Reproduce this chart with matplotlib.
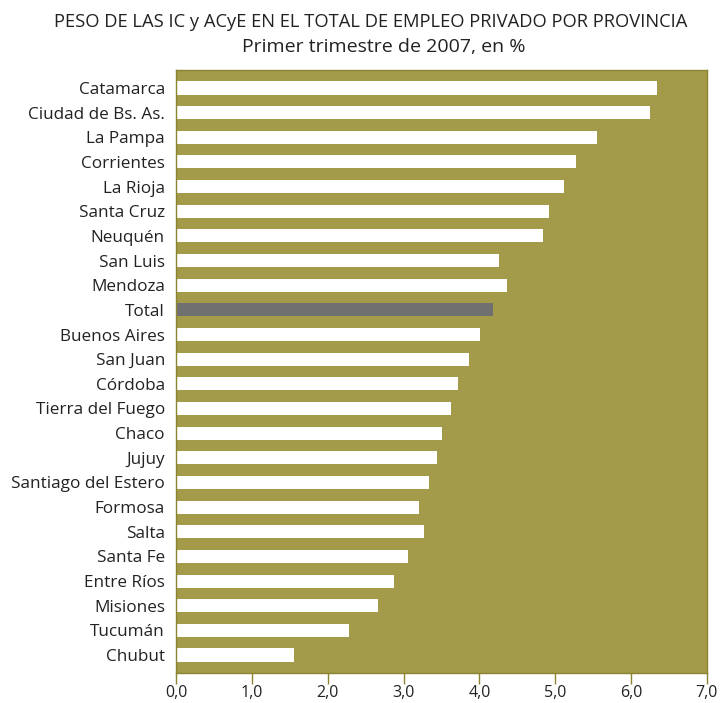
import numpy as np
import matplotlib.pyplot as plt

provincias = ["Catamarca", "Ciudad de Bs. As.", "La Pampa", "Corrientes", "La Rioja",
              "Santa Cruz", "Neuquén", "San Luis", "Mendoza", "Total", "Buenos Aires",
              "San Juan", "Córdoba", "Tierra del Fuego", "Chaco", "Jujuy",
              "Santiago del Estero", "Formosa", "Salta", "Santa Fe", "Entre Ríos",
              "Misiones", "Tucumán", "Chubut"]
valores = [6.34, 6.25, 5.55, 5.28, 5.12, 4.92, 4.84, 4.26, 4.37, 4.18, 4.01,
           3.86, 3.72, 3.62, 3.51, 3.44, 3.33, 3.20, 3.27, 3.06, 2.87,
           2.66, 2.28, 1.55]
ticks = [0, 1, 2, 3, 4, 5, 6, 7]
tick_labels = ["0,0", "1,0", "2,0", "3,0", "4,0", "5,0", "6,0", "7,0"]

olive = "#A39A4A"
plt.rcParams['font.family'] = ['Open Sans', 'DejaVu Sans']

fig = plt.figure(figsize=(7.22, 7.03), dpi=100)
ax = fig.add_axes([0.2438, 0.0427, 0.7352, 0.8577])
ax.set_facecolor(olive)

y = np.arange(len(provincias))
colors = ["#707070" if p == "Total" else "white" for p in provincias]
ax.barh(y, valores, height=0.53, color=colors, linewidth=0)

ax.set_ylim(len(provincias) - 0.27, -0.73)
ax.set_xlim(0, 7)
ax.set_yticks(y)
ax.set_yticklabels(provincias, fontsize=12.3, color="#222222")
ax.tick_params(axis='y', length=0, pad=8)
ax.set_xticks(ticks)
ax.set_xticklabels(tick_labels, fontsize=11.5, color="#222222")
ax.tick_params(axis='x', direction='out', length=8, width=1, color="#8C8430", pad=1)
for s in ax.spines.values():
    s.set_color("#8C8430")
    s.set_linewidth(1)

fig.text(0.514, 0.969, "PESO DE LAS IC y ACyE EN EL TOTAL DE EMPLEO PRIVADO POR PROVINCIA",
         ha='center', va='center', fontsize=13.2, color="#222222")
fig.text(0.532, 0.933, "Primer trimestre de 2007, en %",
         ha='center', va='center', fontsize=14, color="#222222")

fig.savefig("out.png", dpi=100)
